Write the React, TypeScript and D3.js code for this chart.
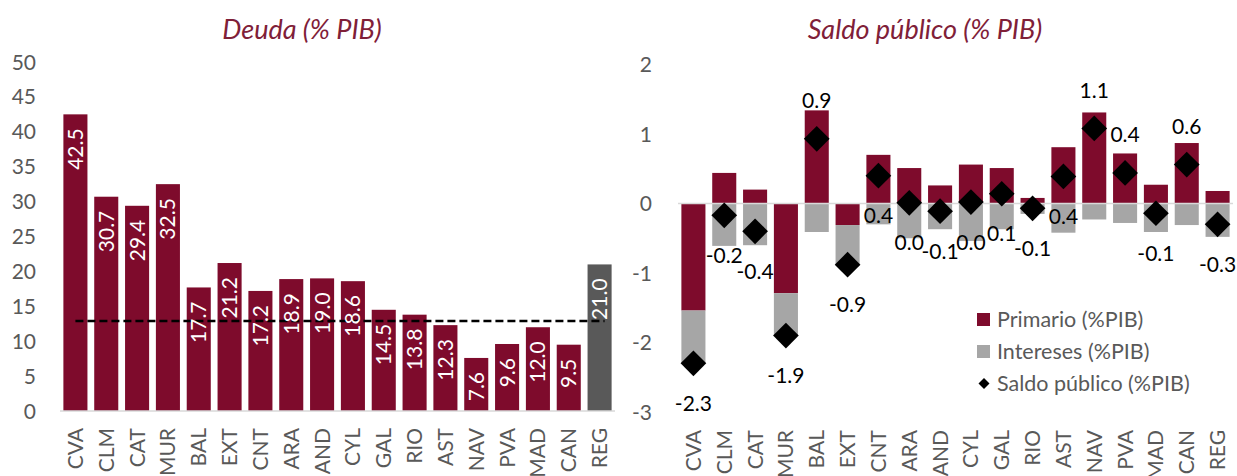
import React from "react";
import * as d3 from "d3";

const regiones = ["CVA", "CLM", "CAT", "MUR", "BAL", "EXT", "CNT", "ARA", "AND", "CYL", "GAL", "RIO", "AST", "NAV", "PVA", "MAD", "CAN", "REG"];

// deuda (% PIB)
const deuda = [42.5, 30.7, 29.4, 32.5, 17.7, 21.2, 17.2, 18.9, 19.0, 18.6, 14.5, 13.8, 12.3, 7.6, 9.6, 12.0, 9.5, 21.0];
const deudaRef = 12.9;
const deudaTicks = [0, 5, 10, 15, 20, 25, 30, 35, 40, 45, 50];

// saldo publico (% PIB)
const primario = [-1.54, 0.44, 0.2, -1.29, 1.34, -0.31, 0.7, 0.51, 0.26, 0.56, 0.51, 0.08, 0.81, 1.31, 0.72, 0.27, 0.87, 0.18];
const intereses = [-0.76, -0.61, -0.6, -0.61, -0.41, -0.57, -0.3, -0.5, -0.37, -0.54, -0.37, -0.15, -0.42, -0.23, -0.28, -0.41, -0.31, -0.48];
const saldo = [-2.3, -0.17, -0.4, -1.9, 0.93, -0.88, 0.4, 0.01, -0.11, 0.02, 0.14, -0.07, 0.39, 1.08, 0.44, -0.14, 0.56, -0.3];
const saldoLabelPos = ["below", "below", "below", "below", "above", "below", "below", "below", "below", "below", "below", "below", "below", "above", "above", "below", "above", "below"];
const saldoTicks = [-3, -2, -1, 0, 1, 2];
const leyenda = ["Primario (%PIB)", "Intereses (%PIB)", "Saldo público (%PIB)"];

const W = 1237, H = 476;
const FONT = "Lato, 'Open Sans', sans-serif";
const MAROON = "#7E0B2C";
const GREY_BAR = "#A6A6A6";
const DARK = "#595959";
const AXIS_TXT = "#595959";
const TITLE = "#7F2038";

function XLabels({ x, y0 }: { x: d3.ScaleBand<string>; y0: number }) {
  return (
    <g>
      {regiones.map((r) => {
        const cx = x(r)! + x.bandwidth() / 2;
        return (
          <text key={r} transform={`translate(${cx},${y0}) rotate(-90)`} textAnchor="end" dy="0.36em"
            fill={AXIS_TXT} fontSize={21} fontFamily={FONT}>{r}</text>
        );
      })}
    </g>
  );
}

function Deuda() {
  const x = d3.scaleBand<string>().domain(regiones).range([60, 615]).paddingInner(0.22).paddingOuter(0.11);
  const y = d3.scaleLinear().domain([0, 50]).range([411, 62]);
  const first = x(regiones[0])! + x.bandwidth() / 2;
  const last = x(regiones[regiones.length - 1])! + x.bandwidth() / 2;
  return (
    <g>
      <text x={302} y={39} textAnchor="middle" fontStyle="italic" fontSize={27} fill={TITLE} fontFamily={FONT}>Deuda (% PIB)</text>
      {deudaTicks.map((t) => (
        <text key={t} x={36} y={y(t)} dy="0.36em" textAnchor="end" fontSize={21} fill={AXIS_TXT} fontFamily={FONT}>{t}</text>
      ))}
      {regiones.map((r, i) => (
        <rect key={r} x={x(r)} y={y(deuda[i])} width={x.bandwidth()} height={y(0) - y(deuda[i])}
          fill={r === "REG" ? DARK : MAROON} />
      ))}
      <line x1={60} x2={615} y1={y(0)} y2={y(0)} stroke="#D9D9D9" strokeWidth={1.5} />
      <line x1={first} x2={last + 5} y1={y(deudaRef)} y2={y(deudaRef)} stroke="#000" strokeWidth={2.5} strokeDasharray="8,4" />
      {regiones.map((r, i) => (
        <text key={r} transform={`translate(${x(r)! + x.bandwidth() / 2},${y(deuda[i]) + 14}) rotate(-90)`}
          textAnchor="end" dy="0.36em" fill="#fff" fontSize={21} fontFamily={FONT}>{deuda[i].toFixed(1)}</text>
      ))}
      <XLabels x={x} y0={428} />
    </g>
  );
}

function Saldo() {
  const x = d3.scaleBand<string>().domain(regiones).range([678, 1233]).paddingInner(0.22).paddingOuter(0.11);
  const y = d3.scaleLinear().domain([-3, 2]).range([412, 64.5]);
  const rows = regiones.map((r, i) => ({ region: r, primario: primario[i], intereses: intereses[i] }));
  const series = d3.stack<any>().keys(["primario", "intereses"]).offset(d3.stackOffsetDiverging)(rows);
  const colors: Record<string, string> = { primario: MAROON, intereses: GREY_BAR };
  const diamond = d3.symbol().type(d3.symbolSquare).size(330)()!;
  return (
    <g>
      <text x={925} y={39} textAnchor="middle" fontStyle="italic" fontSize={27} fill={TITLE} fontFamily={FONT}>Saldo público (% PIB)</text>
      {saldoTicks.map((t) => (
        <text key={t} x={652} y={y(t)} dy="0.36em" textAnchor="end" fontSize={21} fill={AXIS_TXT} fontFamily={FONT}>{t}</text>
      ))}
      {series.map((s) => (
        <g key={s.key} fill={colors[s.key]}>
          {s.map((d, i) => (
            <rect key={i} x={x(regiones[i])} y={y(Math.max(d[0], d[1]))} width={x.bandwidth()}
              height={Math.abs(y(d[0]) - y(d[1]))} />
          ))}
        </g>
      ))}
      <line x1={678} x2={1233} y1={y(0)} y2={y(0)} stroke="#D9D9D9" strokeWidth={1.5} />
      {regiones.map((r, i) => {
        const cx = x(r)! + x.bandwidth() / 2;
        const cy = y(saldo[i]);
        const ly = saldoLabelPos[i] === "above" ? cy - 38 : cy + 40;
        return (
          <g key={r}>
            <path d={diamond} transform={`translate(${cx},${cy}) rotate(45)`} fill="#000" />
            <text x={cx} y={ly} dy="0.36em" textAnchor="middle" fontSize={21} fill="#000" fontFamily={FONT}>{saldo[i].toFixed(1)}</text>
          </g>
        );
      })}
      <XLabels x={x} y0={430} />
      <g fontFamily={FONT} fontSize={21.5} fill={AXIS_TXT}>
        <rect x={977} y={313} width={13} height={13} fill={MAROON} />
        <text x={997} y={319.5} dy="0.36em">{leyenda[0]}</text>
        <rect x={977} y={345} width={13} height={13} fill={GREY_BAR} />
        <text x={997} y={351.5} dy="0.36em">{leyenda[1]}</text>
        <path d={d3.symbol().type(d3.symbolSquare).size(60)()!} transform="translate(984,383.5) rotate(45)" fill="#000" />
        <text x={997} y={383.5} dy="0.36em">{leyenda[2]}</text>
      </g>
    </g>
  );
}

export default function App() {
  return (
    <svg width={W} height={H} style={{ position: "absolute", left: 0, top: 0, background: "#fff" }}>
      <Deuda />
      <Saldo />
    </svg>
  );
}
